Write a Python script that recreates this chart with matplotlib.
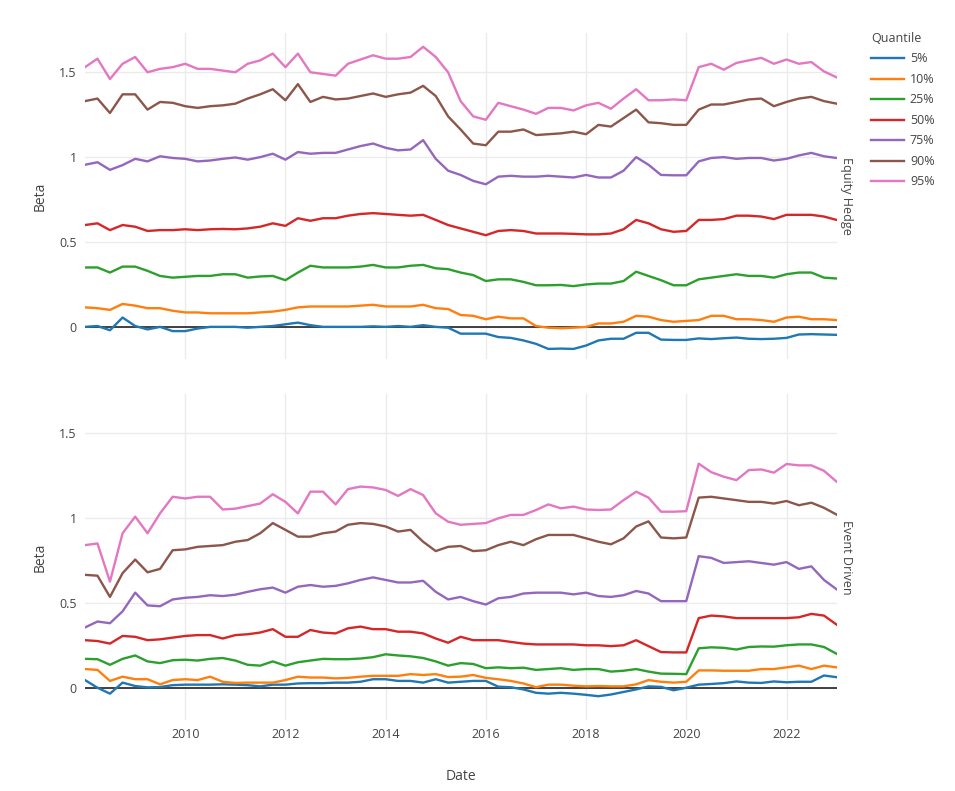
import matplotlib
matplotlib.use("Agg")
import pandas as pd
from matplotlib import pyplot as plt

plt.rcParams["font.family"] = ["Open Sans", "DejaVu Sans"]

dates = pd.date_range("2008-01-01", "2023-01-01", freq="QS")
quantiles = ["5%", "10%", "25%", "50%", "75%", "90%", "95%"]
colors = ["#1f77b4", "#ff7f0e", "#2ca02c", "#d62728", "#9467bd", "#8c564b", "#e377c2"]
strategies = ["Equity Hedge", "Event Driven"]
year_ticks = ["2010", "2012", "2014", "2016", "2018", "2020", "2022"]

# Equity Hedge, quarterly betas per quantile
eh_q05 = [0.0, 0.005, -0.02, 0.055, 0.005, -0.015, 0.0, -0.025, -0.025, -0.01, 0.0, 0.0, 0.0, -0.005, 0.0, 0.005, 0.015, 0.025, 0.01, 0.0, 0.0,
          0.0, 0.0, 0.003, 0.0, 0.005, 0.0, 0.01, 0.0, -0.005, -0.04, -0.04, -0.04, -0.06, -0.065, -0.08, -0.10, -0.13, -0.128, -0.13, -0.11,
          -0.08, -0.07, -0.07, -0.035, -0.035, -0.075, -0.077, -0.077, -0.068, -0.072, -0.067, -0.063, -0.07, -0.072, -0.07, -0.065, -0.045, -0.043, -0.045, -0.047]
eh_q10 = [0.115, 0.11, 0.10, 0.135, 0.125, 0.11, 0.11, 0.095, 0.085, 0.085, 0.08, 0.08, 0.08, 0.08, 0.085, 0.09, 0.10, 0.115, 0.12, 0.12, 0.12,
          0.12, 0.125, 0.13, 0.12, 0.12, 0.12, 0.13, 0.11, 0.105, 0.07, 0.065, 0.045, 0.06, 0.05, 0.05, 0.005, -0.005, -0.008, -0.005, 0.0,
          0.02, 0.02, 0.03, 0.065, 0.06, 0.04, 0.03, 0.035, 0.04, 0.065, 0.065, 0.045, 0.045, 0.04, 0.03, 0.055, 0.06, 0.045, 0.045, 0.04]
eh_q25 = [0.35, 0.35, 0.32, 0.355, 0.355, 0.33, 0.30, 0.29, 0.295, 0.30, 0.30, 0.31, 0.31, 0.29, 0.297, 0.30, 0.275, 0.32, 0.36, 0.35, 0.35,
          0.35, 0.355, 0.365, 0.35, 0.35, 0.36, 0.365, 0.345, 0.34, 0.32, 0.305, 0.27, 0.28, 0.28, 0.265, 0.245, 0.245, 0.247, 0.24, 0.25,
          0.255, 0.255, 0.27, 0.325, 0.30, 0.275, 0.245, 0.245, 0.28, 0.29, 0.30, 0.31, 0.30, 0.30, 0.29, 0.31, 0.32, 0.32, 0.29, 0.285]
eh_q50 = [0.60, 0.61, 0.57, 0.60, 0.59, 0.565, 0.57, 0.57, 0.575, 0.57, 0.575, 0.577, 0.575, 0.58, 0.59, 0.61, 0.595, 0.64, 0.625, 0.64, 0.64,
          0.655, 0.665, 0.67, 0.665, 0.66, 0.655, 0.66, 0.63, 0.60, 0.58, 0.56, 0.54, 0.565, 0.57, 0.565, 0.55, 0.55, 0.55, 0.548, 0.545,
          0.545, 0.55, 0.575, 0.63, 0.61, 0.575, 0.56, 0.565, 0.63, 0.63, 0.635, 0.655, 0.655, 0.65, 0.635, 0.66, 0.66, 0.66, 0.65, 0.63]
eh_q75 = [0.955, 0.97, 0.925, 0.953, 0.99, 0.975, 1.005, 0.995, 0.99, 0.975, 0.98, 0.99, 0.998, 0.985, 1.0, 1.02, 0.985, 1.03, 1.02, 1.025, 1.025,
          1.045, 1.065, 1.08, 1.055, 1.04, 1.045, 1.10, 0.99, 0.92, 0.895, 0.86, 0.84, 0.885, 0.89, 0.885, 0.885, 0.89, 0.885, 0.88, 0.895,
          0.88, 0.88, 0.92, 1.0, 0.955, 0.895, 0.893, 0.893, 0.975, 0.995, 1.0, 0.99, 0.995, 0.995, 0.98, 0.99, 1.01, 1.025, 1.005, 0.995]
eh_q90 = [1.33, 1.345, 1.26, 1.37, 1.37, 1.28, 1.325, 1.32, 1.30, 1.29, 1.30, 1.305, 1.315, 1.345, 1.37, 1.40, 1.335, 1.43, 1.325, 1.355, 1.34,
          1.345, 1.36, 1.375, 1.355, 1.37, 1.38, 1.42, 1.36, 1.24, 1.163, 1.08, 1.07, 1.15, 1.15, 1.163, 1.13, 1.135, 1.14, 1.15, 1.135,
          1.19, 1.18, 1.23, 1.28, 1.205, 1.20, 1.19, 1.19, 1.28, 1.31, 1.31, 1.325, 1.34, 1.345, 1.30, 1.325, 1.345, 1.355, 1.33, 1.315]
eh_q95 = [1.53, 1.58, 1.46, 1.55, 1.59, 1.50, 1.52, 1.53, 1.55, 1.52, 1.52, 1.51, 1.50, 1.55, 1.57, 1.61, 1.53, 1.61, 1.50, 1.49, 1.48,
          1.55, 1.575, 1.60, 1.58, 1.58, 1.59, 1.65, 1.59, 1.50, 1.33, 1.24, 1.22, 1.32, 1.30, 1.28, 1.255, 1.29, 1.29, 1.275, 1.305,
          1.32, 1.285, 1.345, 1.40, 1.335, 1.335, 1.34, 1.335, 1.53, 1.55, 1.515, 1.555, 1.57, 1.585, 1.55, 1.575, 1.55, 1.56, 1.505, 1.47]

# Event Driven, quarterly betas per quantile
ed_q05 = [0.045, 0.0, -0.035, 0.03, 0.01, 0.002, 0.004, 0.015, 0.018, 0.018, 0.018, 0.02, 0.018, 0.015, 0.008, 0.018, 0.018, 0.025, 0.027, 0.027, 0.03,
          0.03, 0.035, 0.05, 0.05, 0.04, 0.04, 0.03, 0.05, 0.03, 0.035, 0.04, 0.04, 0.006, 0.003, -0.01, -0.03, -0.035, -0.03, -0.035, -0.042,
          -0.05, -0.04, -0.025, -0.01, 0.008, 0.005, -0.015, 0.0, 0.018, 0.022, 0.027, 0.037, 0.03, 0.028, 0.037, 0.032, 0.035, 0.035, 0.072, 0.062]
ed_q10 = [0.11, 0.105, 0.04, 0.065, 0.05, 0.05, 0.02, 0.045, 0.05, 0.045, 0.065, 0.035, 0.028, 0.03, 0.03, 0.03, 0.045, 0.065, 0.06, 0.06, 0.055,
          0.058, 0.065, 0.07, 0.07, 0.07, 0.08, 0.075, 0.08, 0.063, 0.065, 0.075, 0.058, 0.05, 0.04, 0.025, 0.003, 0.018, 0.018, 0.012, 0.008,
          0.01, 0.008, 0.008, 0.02, 0.045, 0.035, 0.03, 0.035, 0.102, 0.102, 0.10, 0.10, 0.10, 0.11, 0.11, 0.12, 0.13, 0.11, 0.13, 0.12]
ed_q25 = [0.17, 0.168, 0.135, 0.17, 0.19, 0.155, 0.145, 0.162, 0.165, 0.16, 0.17, 0.175, 0.16, 0.135, 0.13, 0.155, 0.13, 0.15, 0.16, 0.17, 0.168,
          0.168, 0.172, 0.18, 0.197, 0.19, 0.185, 0.175, 0.155, 0.13, 0.145, 0.14, 0.115, 0.12, 0.115, 0.118, 0.105, 0.11, 0.115, 0.105, 0.11,
          0.11, 0.095, 0.10, 0.11, 0.095, 0.083, 0.082, 0.08, 0.232, 0.238, 0.235, 0.225, 0.24, 0.243, 0.242, 0.25, 0.255, 0.255, 0.24, 0.20]
ed_q50 = [0.28, 0.275, 0.26, 0.305, 0.30, 0.28, 0.285, 0.295, 0.305, 0.31, 0.31, 0.29, 0.31, 0.315, 0.325, 0.345, 0.30, 0.30, 0.34, 0.325, 0.32,
          0.35, 0.36, 0.345, 0.345, 0.33, 0.33, 0.32, 0.29, 0.265, 0.30, 0.28, 0.28, 0.28, 0.27, 0.26, 0.255, 0.255, 0.255, 0.255, 0.25,
          0.25, 0.245, 0.25, 0.28, 0.245, 0.21, 0.208, 0.208, 0.41, 0.425, 0.42, 0.41, 0.41, 0.41, 0.41, 0.41, 0.415, 0.435, 0.425, 0.372]
ed_q75 = [0.355, 0.39, 0.38, 0.45, 0.56, 0.485, 0.48, 0.52, 0.53, 0.535, 0.545, 0.54, 0.548, 0.565, 0.58, 0.59, 0.56, 0.595, 0.605, 0.595, 0.60,
          0.615, 0.635, 0.65, 0.635, 0.62, 0.62, 0.63, 0.565, 0.52, 0.535, 0.51, 0.49, 0.527, 0.535, 0.555, 0.56, 0.56, 0.56, 0.55, 0.56,
          0.54, 0.535, 0.545, 0.57, 0.555, 0.51, 0.51, 0.51, 0.775, 0.765, 0.735, 0.74, 0.745, 0.735, 0.725, 0.74, 0.70, 0.715, 0.635, 0.58]
ed_q90 = [0.665, 0.66, 0.535, 0.675, 0.755, 0.68, 0.70, 0.81, 0.815, 0.83, 0.835, 0.84, 0.86, 0.87, 0.91, 0.97, 0.93, 0.89, 0.89, 0.91, 0.92,
          0.96, 0.97, 0.965, 0.95, 0.92, 0.93, 0.86, 0.805, 0.83, 0.835, 0.805, 0.81, 0.84, 0.86, 0.84, 0.875, 0.90, 0.90, 0.90, 0.88,
          0.86, 0.845, 0.88, 0.95, 0.98, 0.885, 0.88, 0.885, 1.12, 1.125, 1.115, 1.105, 1.095, 1.095, 1.085, 1.10, 1.075, 1.09, 1.06, 1.02]
ed_q95 = [0.84, 0.85, 0.625, 0.91, 1.008, 0.91, 1.027, 1.125, 1.115, 1.125, 1.125, 1.05, 1.055, 1.07, 1.085, 1.14, 1.095, 1.027, 1.155, 1.155, 1.08,
          1.17, 1.185, 1.18, 1.165, 1.13, 1.17, 1.135, 1.027, 0.978, 0.96, 0.965, 0.97, 0.998, 1.018, 1.018, 1.047, 1.08, 1.057, 1.067, 1.05,
          1.047, 1.05, 1.105, 1.155, 1.12, 1.037, 1.037, 1.04, 1.32, 1.27, 1.243, 1.223, 1.282, 1.286, 1.267, 1.318, 1.31, 1.31, 1.278, 1.214]

eh_series = [eh_q05, eh_q10, eh_q25, eh_q50, eh_q75, eh_q90, eh_q95]
ed_series = [ed_q05, ed_q10, ed_q25, ed_q50, ed_q75, ed_q90, ed_q95]

fig = plt.figure(figsize=(9.55, 7.91), dpi=100)
top = fig.add_axes([0.089, 0.546, 0.787, 0.412])
bot = fig.add_axes([0.089, 0.0898, 0.787, 0.412], sharex=top)

text_col = "#444444"
grid_col = "#ebebeb"

for ax, series, name in [(top, eh_series, strategies[0]), (bot, ed_series, strategies[1])]:
    ax.axhline(0, color="#222222", linewidth=1.2, zorder=1)
    for vals, col, q in zip(series, colors, quantiles):
        ax.plot(dates, vals, color=col, linewidth=1.7, label=q, zorder=2)
    ax.set_ylim(-0.19, 1.73)
    ax.set_yticks([0, 0.5, 1, 1.5])
    ax.set_yticklabels(["0", "0.5", "1", "1.5"])
    ax.grid(True, color=grid_col, linewidth=1)
    ax.set_axisbelow(True)
    for s in ax.spines.values():
        s.set_visible(False)
    ax.tick_params(length=0, colors=text_col, labelsize=9, pad=6)
    ax.set_ylabel("Beta", color=text_col, fontsize=10, labelpad=8)
    ax.text(1.005, 0.5, name, transform=ax.transAxes, rotation=-90,
            ha="left", va="center", color=text_col, fontsize=9)

top.set_xlim(pd.Timestamp("2008-01-01"), pd.Timestamp("2023-01-01"))
top.set_xticks(pd.to_datetime(year_ticks))
top.set_xticklabels(year_ticks)
top.tick_params(labelbottom=False)
bot.set_xlabel("Date", color=text_col, fontsize=10, labelpad=20)

handles, labels = top.get_legend_handles_labels()
leg = fig.legend(handles, labels, title="Quantile", loc="upper left",
                 bbox_to_anchor=(0.907, 0.966), frameon=False, fontsize=9,
                 title_fontsize=9, handlelength=2.6, labelspacing=0.6,
                 handletextpad=0.5, borderaxespad=0)
leg._legend_box.align = "left"
for t in leg.get_texts():
    t.set_color(text_col)
leg.get_title().set_color(text_col)

fig.savefig("out.png", dpi=100, facecolor="white")
